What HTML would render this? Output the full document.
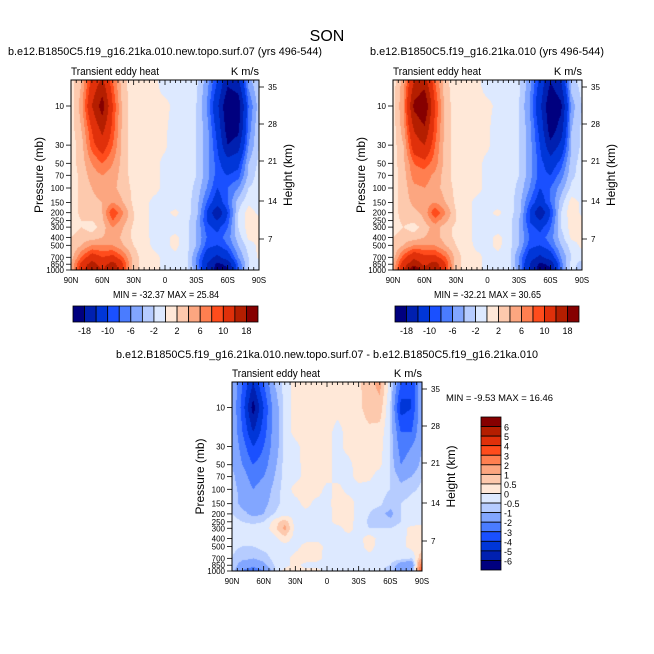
<!DOCTYPE html>
<html><head><meta charset="utf-8"><style>
body{margin:0;background:#fff;font-family:"Liberation Sans",sans-serif;}
#wrap{position:relative;width:654px;height:654px;overflow:hidden;}
canvas{position:absolute;left:0;top:0;}
svg{position:absolute;left:0;top:0;}
text{font-family:"Liberation Sans",sans-serif;fill:#000;}
</style></head><body>
<div id="wrap">
<canvas id="cv" width="654" height="654"></canvas>
<svg id="sv" width="654" height="654"></svg>
</div>
<script>
const lats = [90,80,70,60,50,40,30,20,10,0,-10,-20,-30,-40,-50,-60,-70,-80,-90];
const plevs = [5,10,20,30,50,70,100,150,200,250,300,400,500,700,850,1000];
const levelsMain = [-18,-14,-10,-8,-6,-4,-2,0,2,4,6,8,10,14,18];
const labelsMain = ["-18","-10","-6","-2","2","6","10","18"];
const levelsDiff = [-6,-5,-4,-3,-2,-1,-0.5,0,0.5,1,2,3,4,5,6];
const labelsDiff = ["-6","-5","-4","-3","-2","-1","-0.5","0","0.5","1","2","3","4","5","6"];
const presTicks = [10,30,50,70,100,150,200,250,300,400,500,700,850,1000];
const heightTicks = [35,28,21,14,7];
const heightOffsets = [7,44,81,121,159];
const latTickLabels = ["90N","60N","30N","0","30S","60S","90S"];
const paletteMain = ["#00007f","#0020b0","#0036d8","#1a50ff","#4a7cff","#82a6ff","#b6ccff","#dde9ff","#ffe8d8","#fdc9ad","#fca680","#ff7f50","#ff4c1c","#e0300a","#b41e00","#860000"];
const fieldA = [
[1,4,11,15,8,2.5,1,0.5,0.5,-1,-0.5,-0.5,-1.5,-5,-10,-17,-15,-5,-2],
[1,5,14,20,10,3,1,1,0.5,0.5,-0.5,-1,-2,-6,-13,-22,-21,-8,-3],
[1,4,10,15,9,3,1,1,0.5,0.3,-1,-1,-2,-5,-11,-20,-19,-7,-2],
[1,3,9,12,8,3,1,1,0.5,0.3,-1,-1,-2,-5,-10,-18,-16,-6,-2],
[1,3,6,8,6,3,1,0.8,0.5,-0.5,-1,-1,-2,-5,-9,-12,-11,-4,-1.5],
[1,2.5,5,6,5,3,1,0.8,0.5,-0.5,-1,-1,-2,-5,-9,-10,-9,-3.5,-1],
[1,2.5,4,5,4.5,3,1.5,0.8,0.5,-0.5,-1,-1,-2.5,-6,-10,-8,-6,-2,-1],
[1,2.5,3.5,4,6,4,1.5,0.5,-0.5,-0.5,-1,-1,-3,-8,-12,-8,-3,-0.5,-1],
[1,2.5,2.5,4,10,6,2,0.5,-0.5,-0.5,0.5,-1,-3,-10,-18,-10,-2,1,-0.5],
[1,2,2,3.5,8,5,2,0.5,-0.5,-0.5,-0.5,-1,-4,-10,-14,-9,-2,1,0.5],
[1,2,1,3,6,4,1.5,0.5,-0.5,-0.5,-1,-1,-4,-9,-11,-8,-2,1,0.5],
[2,3,3,4,5,3.5,1.5,0.5,-0.5,-0.5,0.5,-1,-4,-8,-9,-7,-3,0.5,0.5],
[2,4,6,6,6,4,2,0.8,-0.5,-0.5,0.5,-1,-4,-9,-10,-8,-4,-1,0.5],
[3,8,12,10,11,8,3,1,0.5,-0.5,-0.5,-1,-6,-12,-15,-12,-6,-2,0.5],
[4,11,16,12,16,10,3,1,0.5,-0.5,-0.5,-1,-6,-14,-19,-17,-8,-2,-1],
[4,12,19,14,18,10,3,1,0.5,-0.5,-0.5,-1,-5,-14,-20,-19,-8,-2,-1]];
const fieldB = [
[1,5,14,16,8,2.5,1,0.5,0.5,-1,-0.5,-0.5,-1.5,-5,-11,-18,-14,-3,-1],
[1,6,19,22,10,3,1,1,0.5,0.5,-0.5,-1,-2,-6,-13,-22,-19,-5,-2],
[1,5,14,17,9,3,1,1,0.5,0.3,-1,-1,-2,-5,-11,-20,-16,-4,-1.5],
[1,4,12,14,8,3,1,1,0.5,0.3,-1,-1,-2,-5,-10,-17,-13,-4,-1.5],
[1,3.5,8,9,7,3,1,0.8,0.5,-0.5,-1,-1,-2,-5,-9,-12,-9,-3,-1],
[1,3,7,7,5.5,3,1,0.8,0.5,-0.5,-1,-1,-2,-5,-9,-10,-7,-2.5,-1],
[1,3,5.5,6,5,3,1.5,0.8,0.5,-0.5,-1,-1,-2.5,-6,-10,-8,-5,-1.5,-1],
[1,3,4.5,5,6,4,1.5,0.5,-0.5,-0.5,-1,-1,-3,-8,-12,-8,-3,1,-0.5],
[1,3,3.5,4.5,10,6,2,0.5,-0.5,-0.5,0.5,-1,-3,-10,-18,-10,-2,1.5,-0.5],
[1,2.5,2.5,4,7,4.5,2,0.5,-0.5,-0.5,-0.5,-1,-4,-10,-14,-9,-2,1,0.5],
[1,2,1,3,5,3,1.5,0.5,-0.5,-0.5,-1,-1,-4,-9,-11,-8,-2,1,0.5],
[2,3,3,4,5,3,1.5,0.5,-0.5,-0.5,0.5,-1,-4,-8,-9,-7,-3,0.5,0.5],
[2,4,6,6,6,4,2,0.8,-0.5,-0.5,0.5,-1,-4,-9,-10,-8,-4,-1,0.5],
[3,9,13,11,11,8,3,1,0.5,-0.5,-0.5,-1,-6,-12,-15,-12,-6,-2,-1],
[4,12,17,13,16,10,3,1,0.5,-0.5,-0.5,-1,-6,-14,-19,-17,-7,-1,-3],
[4,14,22,16,18,10,3,1,0.5,-0.5,-0.5,-1,-5,-14,-20,-19,-7,-1,-4]];
const fieldDiff = [
[-1,-3,-5,-3,-1,-0.3,0.2,0.3,0.3,0.2,0.2,0.3,0.4,0.8,1.2,-0.3,-3,-4,-1],
[-1,-3.5,-6.5,-4,-1.5,-0.3,0.2,0.3,0.3,0.2,0.2,0.2,0.4,0.7,0.8,-0.5,-4.5,-4,-1],
[-1,-3,-5,-3.5,-1.5,-0.3,0.2,0.3,0.3,0.2,-0.2,0.2,0.3,0.4,0.3,-0.5,-3,-3,-1],
[-1,-2.5,-4,-3,-1.5,-0.3,-0.2,0.3,0.3,0.2,-0.2,0.2,0.3,0.3,0.2,-0.5,-2.5,-2,-1],
[-1,-2,-3,-2.5,-1.2,-0.3,-0.2,0.2,0.3,0.2,-0.2,-0.2,0.3,0.2,0.1,-0.5,-2,-1.5,-0.8],
[-0.8,-1.5,-2.5,-2,-1,-0.3,-0.2,0.2,0.3,0.2,-0.2,-0.2,0.2,0.1,-0.2,-0.5,-1.2,-1,-0.5],
[-0.8,-1.2,-2,-1.5,-0.8,-0.3,0.2,0.2,0.3,-0.2,0.2,-0.2,-0.2,-0.2,-0.3,-0.5,-0.8,-0.6,-0.4],
[-0.7,-1.2,-1.5,-1.2,-0.7,-0.3,-0.2,0.2,-0.2,-0.2,0.3,0.3,-0.2,-0.3,-0.4,-0.8,-0.5,-0.3,-0.2],
[-0.5,-0.8,-1.2,-1,-0.5,-0.2,-0.2,-0.2,-0.2,-0.2,0.2,0.3,-0.2,-0.5,-0.8,-1.2,-0.5,-0.3,-0.2],
[-0.3,-0.5,-0.6,-0.5,0.2,0.8,-0.2,-0.2,-0.2,-0.2,0.2,0.2,-0.2,-0.6,-0.7,-0.8,-0.5,-0.3,-0.2],
[-0.3,-0.3,-0.3,-0.3,0.3,1.2,-0.2,-0.2,-0.2,-0.2,-0.2,0.2,-0.2,-0.5,-0.5,-0.5,-0.3,0.2,0.2],
[-0.3,-0.3,-0.3,-0.3,-0.2,0.3,-0.2,-0.2,-0.2,-0.2,-0.2,-0.2,-0.2,0.3,-0.2,-0.3,-0.2,0.2,0.2],
[-0.4,-0.5,-0.5,-0.3,-0.2,-0.2,-0.2,0.2,0.3,-0.2,-0.2,-0.2,-0.2,0.2,-0.2,-0.2,-0.2,0.2,0.2],
[-0.5,-0.8,-1,-0.8,-0.3,-0.2,0.2,0.3,0.2,-0.2,-0.2,-0.2,-0.2,-0.2,-0.2,-0.2,-0.3,-0.5,1],
[-0.5,-1.5,-1.5,-1.2,-0.5,-0.2,0.2,-0.2,-0.2,-0.2,-0.2,-0.2,-0.2,-0.3,-0.4,-0.5,-1.5,-2,3],
[-0.6,-2,-3,-2,-0.6,0.2,0.3,0.2,0.2,-0.2,-0.2,-0.2,-0.4,-0.2,-0.3,-0.8,-1.5,-2,4]];

const NS="http://www.w3.org/2000/svg";
const sv=document.getElementById('sv');
const ctx=document.getElementById('cv').getContext('2d');
function el(tag,attrs,txt,parent){const e=document.createElementNS(NS,tag);for(const k in attrs)e.setAttribute(k,attrs[k]);if(txt!==undefined)e.textContent=txt;(parent||sv).appendChild(e);return e;}
function txt(x,y,s,size,anchor,name,extra){const t=el('text',Object.assign({x:x,y:y,'font-size':size,'text-anchor':anchor||'start'},extra||{}),s);


return t;}

function sample(field,lat,p){
  let li=(90-lat)/10; li=Math.max(0,Math.min(18,li));
  const lp=Math.log10(Math.max(5,Math.min(1000,p)));
  let k=0; while(k<plevs.length-2 && Math.log10(plevs[k+1])<lp) k++;
  const a=Math.log10(plevs[k]),b=Math.log10(plevs[k+1]);
  const ty=Math.max(0,Math.min(1,(lp-a)/(b-a)));
  const i0=Math.min(17,Math.floor(li)),tx=li-i0;
  const v00=field[k][i0],v01=field[k][i0+1],v10=field[k+1][i0],v11=field[k+1][i0+1];
  return (v00*(1-tx)+v01*tx)*(1-ty)+(v10*(1-tx)+v11*tx)*ty;
}
function colorIdx(v,levels){let c=0;for(const l of levels)if(v>=l)c++;return c;}

function panel(P){
  const x0=P.x,x1=P.x+P.w,y0=P.y,y1=P.y+P.h,dec=P.dec;
  const xs=lat=>x0+(90-lat)/180*P.w;
  const ys=p=>y1-(3-Math.log10(p))*dec;
  const invy=y=>Math.pow(10,3-(y1-y)/dec);
  const st=1;
  for(let y=y0;y<y1;y+=st){for(let x=x0;x<x1;x+=st){
    const lat=90-(x+st/2-x0)/P.w*180;const p=invy(y+st/2);
    ctx.fillStyle=paletteMain[colorIdx(sample(P.field,lat,p),P.levels)];
    ctx.fillRect(x,y,st,st);}}
  const g=el('g',{});
  
  
  el('rect',{x:x0,y:y0,width:P.w,height:P.h,fill:'none',stroke:'#000','stroke-width':1},undefined,g);
  for(let lat=90;lat>=-90;lat-=5){const X=xs(lat);const major=lat%30===0;const L=major?5:3;
    el('line',{x1:X,x2:X,y1:y1,y2:y1-L,stroke:'#000','stroke-width':0.8},undefined,g);
    el('line',{x1:X,x2:X,y1:y0,y2:y0+L,stroke:'#000','stroke-width':0.8},undefined,g);}
  latTickLabels.forEach((s,i)=>{txt(xs(90-30*i),y1+13,s,8,'middle','x-tick-label');});
  presTicks.forEach(p=>{const Y=ys(p);el('line',{x1:x0-5,x2:x0,y1:Y,y2:Y,stroke:'#000','stroke-width':0.8},undefined,g);
    txt(x0-7,Y+3,String(p),8,'end','y-tick-label');});
  heightTicks.forEach((h,i)=>{const Y=y0+heightOffsets[i];el('line',{x1:x1,x2:x1+5,y1:Y,y2:Y,stroke:'#000','stroke-width':0.8},undefined,g);
    txt(x1+9,Y+3,String(h),8,'start','height-tick-label');});
  txt(x0-28,(y0+y1)/2,'Pressure (mb)',12,'middle','y-axis-title',{transform:`rotate(-90 ${x0-28} ${(y0+y1)/2})`});
  txt(x1+33,(y0+y1)/2,'Height (km)',12,'middle','right-axis-title',{transform:`rotate(-90 ${x1+33} ${(y0+y1)/2})`});
  txt(x0,y0-5,'Transient eddy heat',11,'start','subtitle-left',{textLength:88,lengthAdjust:'spacingAndGlyphs'});
  txt(x1,y0-5,'K m/s',11,'end','units-label');
}
function hbar(x,y,w,h){
  const n=16,bw=w/n;
  for(let i=0;i<n;i++){const r=el('rect',{x:x+i*bw,y:y,width:bw,height:h,fill:paletteMain[i],stroke:'#000','stroke-width':0.8});
    
    }
  labelsMain.forEach((s,i)=>txt(x+bw*(1+2*i),y+h+12,s,9,'middle','colorbar-label'));
}
function vbar(x,y,w,h){
  const n=16,bh=h/n;
  for(let i=0;i<n;i++){const r=el('rect',{x:x,y:y+i*bh,width:w,height:bh,fill:paletteMain[15-i],stroke:'#000','stroke-width':0.8});
    
    }
  labelsDiff.forEach((s,i)=>txt(x+w+3,y+h-bh*(i+1)+4,s,9,'start','colorbar-label'));
}
txt(327,41,'SON',16,'middle','figure-title');
txt(8,55,'b.e12.B1850C5.f19_g16.21ka.010.new.topo.surf.07 (yrs 496-544)',11,'start','left-panel-title',{textLength:314,lengthAdjust:'spacingAndGlyphs'});
txt(370,55,'b.e12.B1850C5.f19_g16.21ka.010 (yrs 496-544)',11,'start','right-panel-title',{textLength:234,lengthAdjust:'spacingAndGlyphs'});
txt(116,358,'b.e12.B1850C5.f19_g16.21ka.010.new.topo.surf.07 - b.e12.B1850C5.f19_g16.21ka.010',11,'start','diff-panel-title',{textLength:422,lengthAdjust:'spacingAndGlyphs'});
panel({x:71,y:80,w:188,h:190,dec:82,field:fieldA,levels:levelsMain,name:'panel-new-topo'});
panel({x:393,y:80,w:189,h:190,dec:82,field:fieldB,levels:levelsMain,name:'panel-control'});
panel({x:232,y:382,w:190,h:189,dec:81.7,field:fieldDiff,levels:levelsDiff,name:'panel-difference'});
txt(113,298,'MIN = -32.37  MAX =  25.84',10,'start','min-max-left',{textLength:106,lengthAdjust:'spacingAndGlyphs'});
txt(434,298,'MIN = -32.21  MAX =  30.65',10,'start','min-max-right',{textLength:107,lengthAdjust:'spacingAndGlyphs'});
txt(446,401,'MIN =  -9.53  MAX =  16.46',9,'start','min-max-diff',{textLength:107,lengthAdjust:'spacingAndGlyphs'});
hbar(73,306,185,16);
hbar(395,306,184,16);
vbar(481,417,20,153);
</script>
</body></html>
